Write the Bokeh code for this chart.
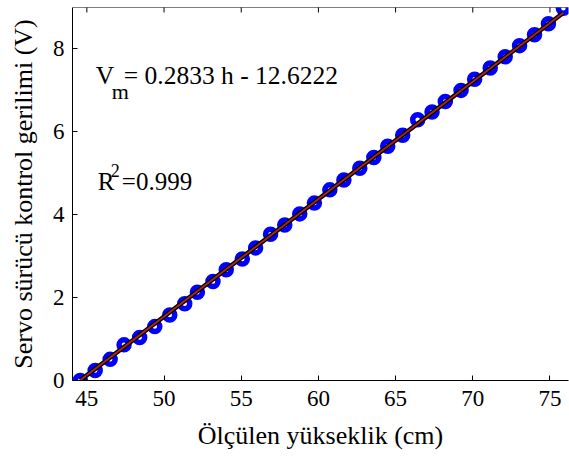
import math
from bokeh.plotting import figure
from bokeh.models import Range1d, FixedTicker, Label, Span
from bokeh.embed import file_html
from bokeh.resources import INLINE

# Measured data (height in cm, servo control voltage in V)
height_cm = [44.57, 45.54, 46.51, 47.41, 48.42, 49.40, 50.37, 51.34, 52.16, 53.17,
             54.03, 55.07, 55.93, 56.90, 57.82, 58.79, 59.74, 60.74, 61.65, 62.68,
             63.59, 64.49, 65.46, 66.43, 67.36, 68.22, 69.24, 70.12, 71.13, 72.10,
             73.03, 74.00, 74.90, 75.87]
voltage_v = [0.00, 0.24, 0.51, 0.86, 1.04, 1.30, 1.58, 1.85, 2.13, 2.39,
             2.67, 2.93, 3.20, 3.53, 3.75, 4.02, 4.28, 4.60, 4.84, 5.12,
             5.38, 5.65, 5.92, 6.29, 6.48, 6.73, 7.00, 7.27, 7.54, 7.81,
             8.08, 8.34, 8.61, 8.98]

# Linear fit from the chart's annotation
fit_slope = 0.2833
fit_intercept = -12.6222

x_ticks = [45, 50, 55, 60, 65, 70, 75]
y_ticks = [0, 2, 4, 6, 8]
y_max = 9

FONT = "Liberation Serif"

p = figure(width=569, height=459, output_backend="svg", toolbar_location=None,
           x_range=Range1d(44.07, 76.2), y_range=Range1d(0, y_max),
           min_border_left=72, min_border_right=1, min_border_top=7,
           min_border_bottom=79)
p.outline_line_color = None
p.xgrid.visible = False
p.ygrid.visible = False
p.background_fill_color = "white"
p.border_fill_color = "white"

for ax in (p.xaxis[0], p.yaxis[0]):
    ax.major_tick_in = 5
    ax.major_tick_out = 0
    ax.minor_tick_line_color = None
    ax.axis_line_color = "black"
    ax.major_tick_line_color = "black"
    ax.major_label_text_font = FONT
    ax.major_label_text_font_size = "23px"
    ax.major_label_text_color = "black"
    ax.axis_label_text_font = FONT
    ax.axis_label_text_font_size = "26px"
    ax.axis_label_text_font_style = "normal"
    ax.axis_label_text_color = "black"

p.xaxis[0].ticker = FixedTicker(ticks=x_ticks)
p.yaxis[0].ticker = FixedTicker(ticks=y_ticks)
p.xaxis[0].axis_label = "Ölçülen yükseklik (cm)"
p.yaxis[0].axis_label = "Servo sürücü kontrol gerilimi (V)"
p.xaxis[0].major_label_standoff = 10
p.xaxis[0].axis_label_standoff = 12
p.yaxis[0].major_label_standoff = 8
p.yaxis[0].axis_label_standoff = 12

# top box edge with inward ticks
p.add_layout(Span(location=y_max, dimension="width", line_color="black", line_width=1))
p.scatter(x_ticks, [y_max] * len(x_ticks), marker="dash", angle=math.pi / 2,
          size=10, line_color="black", line_width=1)

# data markers
p.scatter(height_cm, voltage_v, marker="circle", size=10, fill_color=None,
          line_color="#0000ff", line_width=5.5)

# fitted line
fit_x = [height_cm[0], height_cm[-1]]
fit_y = [fit_slope * x + fit_intercept for x in fit_x]
p.line(fit_x, fit_y, line_color="black", line_width=4.5)
p.line(fit_x, fit_y, line_color="#b22222", line_width=1.8)

# annotations
ann_x = 45.58
common = dict(text_font=FONT, text_color="black", text_baseline="alphabetic")
p.add_layout(Label(x=ann_x, y=7.35, text="V", text_font_size="25.5px", **common))
p.add_layout(Label(x=ann_x, y=7.35, x_offset=16, y_offset=-15.5, text="m",
                   text_font_size="22px", **common))
p.add_layout(Label(x=ann_x, y=7.35, x_offset=28, text="= 0.2833 h - 12.6222",
                   text_font_size="25.5px", **common))
p.add_layout(Label(x=ann_x, y=4.80, x_offset=2, text="R", text_font_size="25px", **common))
p.add_layout(Label(x=ann_x, y=4.80, x_offset=15, y_offset=11, text="2",
                   text_font_size="18px", **common))
p.add_layout(Label(x=ann_x, y=4.80, x_offset=26, text="=0.999",
                   text_font_size="25px", **common))

open("out.html", "w").write(file_html(p, INLINE))
